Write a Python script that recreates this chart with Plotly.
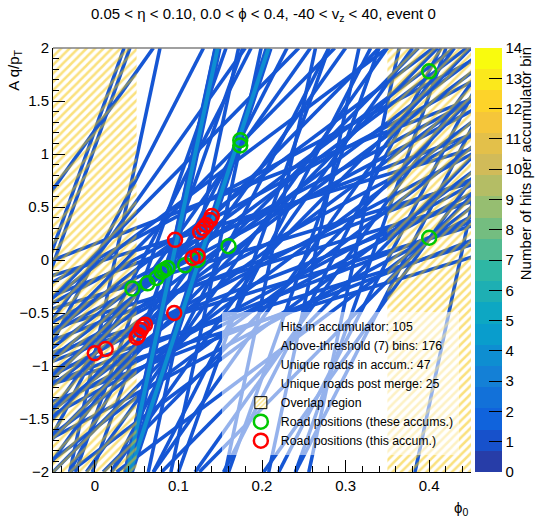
import numpy as np
import plotly.graph_objects as go

# ---------------- data ----------------
x_range = [-0.05, 0.45]          # phi0 range of the accumulator
y_range = [-2.0, 2.0]            # A q/pT range
overlap_low = [-0.05, 0.05]      # overlap regions (phi0)
overlap_high = [0.35, 0.45]

# Hough slopes (d phi0 / d(A q/pT)) of each detector layer
layer_slopes = [0.027, 0.045, 0.065, 0.09, 0.125, 0.17, 0.24, 0.33, 0.42]

# hit phi (line crossing at A q/pT = 0), per layer
phi_layer0 = [0.024, 0.09, 0.118, 0.145, 0.21, 0.262, 0.31, 0.437]
phi_layer1 = [-0.055, -0.048, 0.067, 0.087, 0.19, 0.25, 0.33]
phi_layer2 = [0.0, 0.057, 0.1, 0.15, 0.2, 0.284, 0.35, 0.37]
phi_layer3 = [-0.11, 0.0, 0.078, 0.12, 0.17, 0.2, 0.25, 0.3, 0.382]
phi_layer4 = [-0.006, 0.037, 0.09, 0.137, 0.16, 0.2, 0.26, 0.33, 0.375]
phi_layer5 = [0.01, 0.065, 0.09, 0.105, 0.13, 0.15, 0.19, 0.23, 0.27, 0.31, 0.366]
phi_layer6 = [0.0, 0.047, 0.09, 0.113, 0.17, 0.211, 0.28, 0.3, 0.352]
phi_layer7 = [-0.05, 0.06, 0.2, 0.265, 0.33, 0.39]
phi_layer8 = [0.011, 0.143, 0.22, 0.316, 0.39, 0.44]
layer_phis = [phi_layer0, phi_layer1, phi_layer2, phi_layer3, phi_layer4,
              phi_layer5, phi_layer6, phi_layer7, phi_layer8]

# bundles of coinciding hits (the true-track band), with their bin content
bundle_phi = [0.093, 0.125]
bundle_slope = [0.027, 0.0415]
bundle_count = 4

# road positions
green_phi = [0.045, 0.063, 0.074, 0.080, 0.083, 0.087, 0.108, 0.123, 0.160, 0.174, 0.174, 0.400, 0.400]
green_q = [-0.27, -0.22, -0.17, -0.11, -0.094, -0.075, -0.05, 0.0, 0.13, 1.13, 1.08, 0.21, 1.78]
red_phi = [0.126, 0.130, 0.133, 0.138, 0.140, 0.123, 0.117, 0.096, 0.095, 0.055, 0.057, 0.060, 0.052, 0.050, 0.000, 0.013]
red_q = [0.264, 0.30, 0.33, 0.377, 0.415, 0.038, 0.019, 0.19, -0.50, -0.66, -0.63, -0.61, -0.71, -0.73, -0.88, -0.84]

legend_texts = ["Hits in accumulator: 105", "Above-threshold (7) bins: 176",
                "Unique roads in accum.: 47", "Unique roads post merge: 25"]
cbar_ticks = list(range(0, 15))

# ---------------- style ----------------
FONT = "Liberation Sans, Arial, Helvetica, sans-serif"
LINE_BLUE = "#1556d4"
HATCH = "#f6c300"
GREEN = "#00c800"
RED = "#ff0000"

# ROOT kBird palette, 20 contour levels
stops = [0.0, 0.125, 0.25, 0.375, 0.5, 0.625, 0.75, 0.875, 1.0]
red = [0.2082, 0.0592, 0.0780, 0.0232, 0.1802, 0.5301, 0.8186, 0.9956, 0.9764]
green = [0.1664, 0.3599, 0.5041, 0.6419, 0.7178, 0.7492, 0.7328, 0.7862, 0.9832]
blue = [0.5293, 0.8684, 0.8385, 0.7914, 0.6425, 0.4662, 0.3499, 0.1968, 0.0539]


def bird(t):
    r = np.interp(t, stops, red)
    g = np.interp(t, stops, green)
    b = np.interp(t, stops, blue)
    return "rgb(%d,%d,%d)" % (round(r * 255), round(g * 255), round(b * 255))


ncont = 20
zmax = cbar_ticks[-1]
level_colors = [bird(int((i + 0.99) * 255 / ncont) / 254) for i in range(ncont)]
cscale = []
for i, c in enumerate(level_colors):
    cscale.append([i / ncont, c])
    cscale.append([(i + 1) / ncont, c])
bundle_color = level_colors[min(ncont - 1, int(bundle_count / zmax * ncont))]

fig = go.Figure()

# Hough lines, one per hit
lx, ly = [], []
for s, phis in zip(layer_slopes, layer_phis):
    for p in phis:
        lx += [p + s * y_range[0], p + s * y_range[1], None]
        ly += [y_range[0], y_range[1], None]
fig.add_trace(go.Scatter(x=lx, y=ly, mode="lines", line=dict(color=LINE_BLUE, width=3.6),
                         showlegend=False, hoverinfo="skip"))

bx, by = [], []
for p, s in zip(bundle_phi, bundle_slope):
    bx += [p + s * y_range[0], p + s * y_range[1], None]
    by += [y_range[0], y_range[1], None]
fig.add_trace(go.Scatter(x=bx, y=by, mode="lines", line=dict(color=LINE_BLUE, width=8),
                         showlegend=False, hoverinfo="skip"))
fig.add_trace(go.Scatter(x=bx, y=by, mode="lines", line=dict(color=bundle_color, width=4),
                         showlegend=False, hoverinfo="skip"))

# overlap (hatched) regions
for reg in (overlap_low, overlap_high):
    fig.add_trace(go.Scatter(
        x=[reg[0], reg[1], reg[1], reg[0], reg[0]],
        y=[y_range[0], y_range[0], y_range[1], y_range[1], y_range[0]],
        mode="lines", fill="toself", line=dict(width=0, color="rgba(0,0,0,0)"),
        fillcolor="rgba(0,0,0,0)",
        fillpattern=dict(shape="/", fgcolor=HATCH, bgcolor="rgba(0,0,0,0)", size=6, solidity=0.42),
        showlegend=False, hoverinfo="skip"))

# road markers
fig.add_trace(go.Scatter(x=green_phi, y=green_q, mode="markers",
                         marker=dict(symbol="circle-open", size=14, color=GREEN, line=dict(width=2.5, color=GREEN)),
                         showlegend=False, hoverinfo="skip"))
fig.add_trace(go.Scatter(x=red_phi, y=red_q, mode="markers",
                         marker=dict(symbol="circle-open", size=14, color=RED, line=dict(width=2.5, color=RED)),
                         showlegend=False, hoverinfo="skip"))

# legend entries
for t in legend_texts:
    fig.add_trace(go.Scatter(x=[None], y=[None], mode="markers", name=t,
                             marker=dict(color="rgba(0,0,0,0)", size=1)))
fig.add_trace(go.Bar(x=[None], y=[None], name="Overlap region",
                     marker=dict(color="white", line=dict(color="black", width=1),
                                 pattern=dict(shape="/", fgcolor=HATCH, bgcolor="white", size=4, solidity=0.45))))
fig.add_trace(go.Scatter(x=[None], y=[None], mode="markers", name="Road positions (these accums.)",
                         marker=dict(symbol="circle-open", size=14, color=GREEN, line=dict(width=2.5))))
fig.add_trace(go.Scatter(x=[None], y=[None], mode="markers", name="Road positions (this accum.)",
                         marker=dict(symbol="circle-open", size=14, color=RED, line=dict(width=2.5))))

# colour bar
fig.add_trace(go.Scatter(
    x=[None, None], y=[None, None], mode="markers", showlegend=False, hoverinfo="skip",
    marker=dict(color=[cbar_ticks[0], zmax], cmin=cbar_ticks[0], cmax=zmax,
                colorscale=cscale, showscale=True,
                colorbar=dict(thickness=27, thicknessmode="pixels", len=1, lenmode="fraction",
                              x=1.007, xanchor="left", xpad=0, y=0.5, yanchor="middle", ypad=0,
                              tickmode="array", tickvals=cbar_ticks, ticks="inside", ticklen=13,
                              tickcolor="black", tickfont=dict(size=15, color="black", family=FONT),
                              outlinewidth=0))))

fig.update_layout(
    width=547, height=520,
    margin=dict(l=53, r=75, t=48, b=48),
    paper_bgcolor="white", plot_bgcolor="white",
    font=dict(family=FONT, color="black"),
    xaxis=dict(range=x_range, showgrid=False, zeroline=False, showline=True, linecolor="black",
               linewidth=1, ticks="inside", ticklen=12, tickcolor="black", dtick=0.1, tick0=0,
               tickformat=".1~f", tickfont=dict(size=15),
               minor=dict(dtick=0.02, ticks="inside", ticklen=6, tickcolor="black")),
    yaxis=dict(range=y_range, showgrid=False, zeroline=False, showline=True, linecolor="black",
               linewidth=1, ticks="inside", ticklen=12, tickcolor="black", dtick=0.5, tick0=0,
               tickfont=dict(size=15),
               minor=dict(dtick=0.1, ticks="inside", ticklen=6, tickcolor="black")),
    legend=dict(x=0.403, xanchor="left", y=0.377, yanchor="top", bgcolor="rgba(255,255,255,0.55)",
                borderwidth=0, font=dict(size=12.3, family=FONT), indentation=19,
                tracegroupgap=0, itemwidth=30),
    shapes=[dict(type="line", xref="paper", yref="paper", x0=0, x1=1, y0=1, y1=1,
                 line=dict(color="#808080", width=1.5))],
    annotations=[
        dict(text="0.05 < η < 0.10, 0.0 < ϕ < 0.4, -40 < v<sub>z</sub> < 40, event 0",
             xref="paper", yref="paper", x=0.504, y=1.078, xanchor="center", yanchor="middle",
             showarrow=False, font=dict(size=15)),
        dict(text="A q/p<sub>T</sub>", xref="paper", yref="paper", x=-0.093, y=1.0,
             xanchor="center", yanchor="top", textangle=-90, showarrow=False, font=dict(size=15)),
        dict(text="ϕ<sub>0</sub>", xref="paper", yref="paper", x=0.976, y=-0.06,
             xanchor="center", yanchor="top", showarrow=False, font=dict(size=15)),
        dict(text="Number of hits per accumulator bin", xref="paper", yref="paper", x=1.131, y=1.007,
             xanchor="center", yanchor="top", textangle=-90, showarrow=False, font=dict(size=15)),
    ],
)

fig.write_html("out.html", config={"displayModeBar": False},
               post_script="document.body.style.margin='0';document.body.style.overflow='hidden';")
